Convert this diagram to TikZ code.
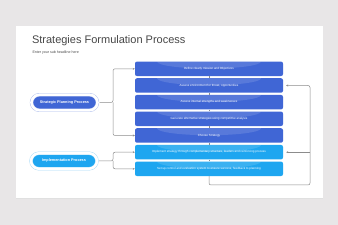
\documentclass[tikz,border=0pt]{standalone}
\usepackage{fontspec}
\setmainfont{Liberation Sans}
\usetikzlibrary{arrows.meta}
\definecolor{bgGrey}{HTML}{E8E6E7}
\definecolor{planBlue}{HTML}{4066D5}
\definecolor{implBlue}{HTML}{1EA6F0}
\definecolor{lineGrey}{HTML}{8C8C8C}
\definecolor{titleGrey}{HTML}{474747}

\begin{document}
\begin{tikzpicture}[x=1pt,y=1pt,
	stepbox/.style={rectangle,rounded corners=2pt,minimum width=148pt,minimum height=14.5pt,
		inner sep=0pt,text=white,font=\fontsize{3}{3.5}\selectfont,
		path picture={\fill[white,opacity=.13] (path picture bounding box.north) ellipse (52pt and 7pt);}},
	planrow/.style={stepbox,fill=planBlue},
	implrow/.style={stepbox,fill=implBlue},
	pill/.style={rectangle,rounded corners=8pt,minimum width=66pt,minimum height=15.5pt,inner sep=0pt,
		text=white,font=\fontsize{3.8}{4}\selectfont\bfseries,line width=.4pt,double=white,double distance=2.6pt},
	conn/.style={draw=lineGrey,line width=.5pt,rounded corners=2pt},
	>={Stealth[length=2pt,width=2pt]}]
	\useasboundingbox (0,0) rectangle (338,225);
	\fill[bgGrey] (0,0) rectangle (338,225);
	% card
	\fill[black!12] (16,26) rectangle (323,198);
	\fill[white] (16,27) rectangle (323,199);
	\node[anchor=base west,text=titleGrey,font=\fontsize{11}{13}\selectfont] (title) at (28.5,181.5) {Strategies Formulation Process};
	\node[anchor=base west,text=titleGrey,font=\fontsize{3.6}{4}\selectfont] (sub) at (29,171.5) {Enter your sub headline here};
	% steps
	\node[planrow] (R1) at (209,156.2) {Define clearly mission and Objectives};
	\node[planrow] (R2) at (209,139.5) {Assess environment for threat, opportunities};
	\node[planrow] (R3) at (209,122.8) {Assess internal strengths and weaknesses};
	\node[planrow] (R4) at (209,106.2) {Generate alternative strategies using competitive analysis};
	\node[planrow] (R5) at (209,89.5) {Choose Strategy};
	\node[implrow] (R6) at (209,72.8) {Implement strategy through complementary structure, leaders and reinforcing process};
	\node[implrow] (R7) at (209,56.2) {Set up control and evaluation system to ensure success, feedback to planning};
	% phases
	\node[pill,fill=planBlue,draw=planBlue!45] (SP) at (64.5,122.5) {Strategic Planning Process};
	\node[pill,fill=implBlue,draw=implBlue!45] (IP) at (64,64) {Implementation Process};
	\coordinate (SPk) at (113,122.5);
	\coordinate (IPk) at (113,64);
	\coordinate (LB) at (209,40);
	\coordinate (RB) at (310,40);
	\coordinate (RT) at (310,139.5);
	\coordinate (RM) at (310,72.8);
	% connectors
	\draw[conn] (R1) -- (R2)  (R2) -- (R3)  (R3) -- (R4)  (R4) -- (R5)  (R5) -- (R6)  (R6) -- (R7);
	\draw[conn,->] ([xshift=2pt]SP.east) -- (SPk) |- (R1.west);
	\draw[conn,->] (SPk) |- (R5.west);
	\draw[conn,->] ([xshift=2pt]IP.east) -- (IPk) |- (R6.west);
	\draw[conn,->] (IPk) |- (R7.west);
	\draw[conn,->] (R7.south) -- (LB) -- (RB) -- (RT) -- ([xshift=3pt]R2.east);
	\draw[conn,->] (RM) -- ([xshift=3pt]R6.east);
\end{tikzpicture}
\end{document}
